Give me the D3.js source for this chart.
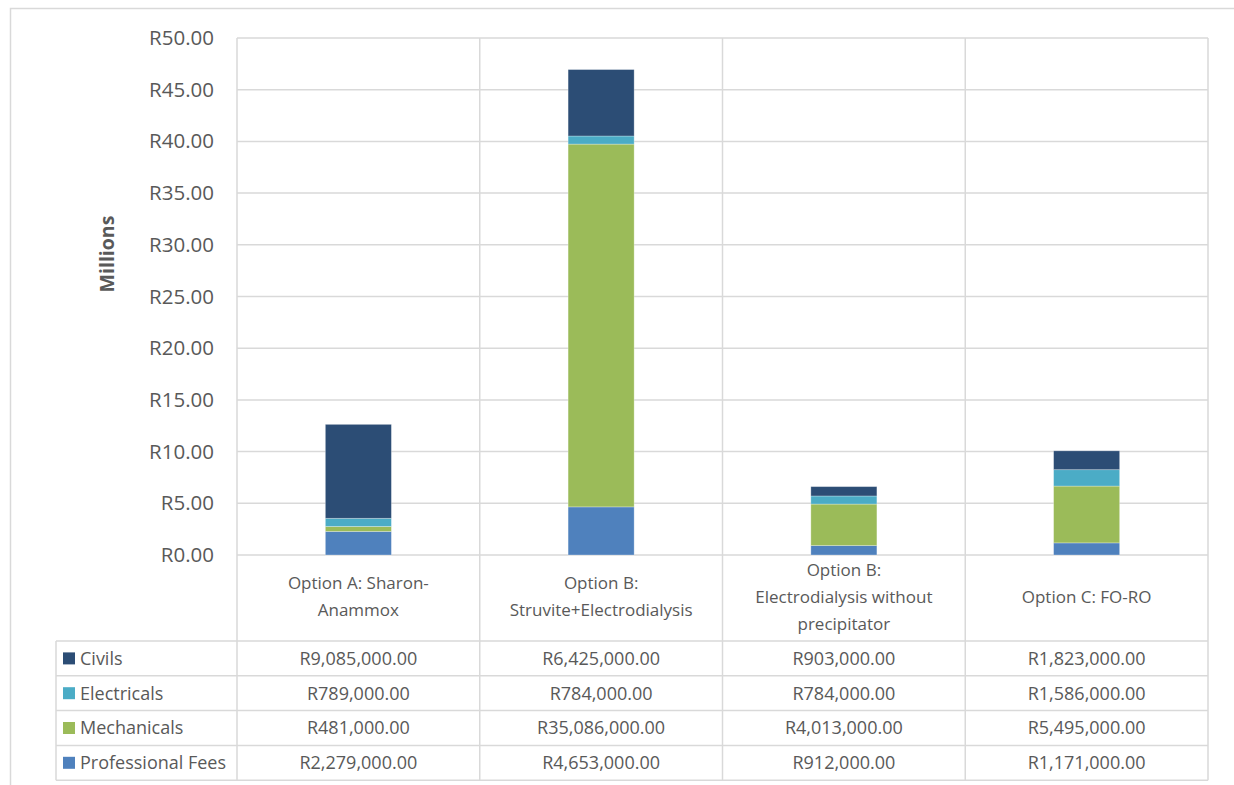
<!DOCTYPE html>
<html>
<head>
<meta charset="utf-8">
<script src="https://cdn.jsdelivr.net/npm/d3@7/dist/d3.min.js"></script>
<style>
  html, body { margin: 0; padding: 0; background: #fff; }
  svg { display: block; }
  text { font-family: "Open Sans", "Noto Sans", sans-serif; fill: #595959; }
</style>
</head>
<body>
<svg id="chart" width="1234" height="785"></svg>
<script>
// Capital cost breakdown per treatment option (Rand)
const categories = [
  "Option A: Sharon-Anammox",
  "Option B: Struvite+Electrodialysis",
  "Option B: Electrodialysis without precipitator",
  "Option C: FO-RO"
];
const categoryLines = [
  ["Option A: Sharon-", "Anammox"],
  ["Option B:", "Struvite+Electrodialysis"],
  ["Option B:", "Electrodialysis without", "precipitator"],
  ["Option C: FO-RO"]
];
const seriesNames = ["Civils", "Electricals", "Mechanicals", "Professional Fees"];
const civils       = [9085000, 6425000, 903000, 1823000];
const electricals  = [789000, 784000, 784000, 1586000];
const mechanicals  = [481000, 35086000, 4013000, 5495000];
const profFees     = [2279000, 4653000, 912000, 1171000];
const yTicks = [0, 5e6, 10e6, 15e6, 20e6, 25e6, 30e6, 35e6, 40e6, 45e6, 50e6];
const colors = {
  "Civils": "#2C4D75",
  "Electricals": "#4BACC6",
  "Mechanicals": "#9BBB59",
  "Professional Fees": "#4F81BD"
};

const seriesValues = {
  "Civils": civils,
  "Electricals": electricals,
  "Mechanicals": mechanicals,
  "Professional Fees": profFees
};

const rows = categories.map((c, i) => {
  const r = { category: c };
  seriesNames.forEach(s => { r[s] = seriesValues[s][i]; });
  return r;
});

const svg = d3.select("#chart");
const grid = "#D9D9D9";

// plot geometry
const plotL = 237, plotR = 1208, plotT = 38, plotB = 555;
const catBottom = 641, rowH = 34.8, tableLeft = 56;

// outer chart frame
svg.append("path")
  .attr("d", "M10.5,785 L10.5,8.5 L1234,8.5")
  .attr("fill", "none").attr("stroke", grid).attr("stroke-width", 1.5);

const x = d3.scaleBand().domain(categories).range([plotL, plotR]).padding(0);
const y = d3.scaleLinear().domain([0, 50e6]).range([plotB, plotT]);

// horizontal gridlines
svg.append("g").selectAll("line").data(yTicks).join("line")
  .attr("x1", plotL).attr("x2", plotR)
  .attr("y1", d => y(d)).attr("y2", d => y(d))
  .attr("stroke", grid).attr("stroke-width", 1.5);

// y axis tick labels
const yAxis = d3.axisLeft(y).tickValues(yTicks)
  .tickFormat(d => "R" + (d / 1e6).toFixed(2))
  .tickSize(0).tickPadding(23);
const ya = svg.append("g").attr("transform", `translate(${plotL},0)`).call(yAxis);
ya.select(".domain").remove();
ya.selectAll("text")
  .style("font-family", '"Open Sans", sans-serif')
  .style("font-size", "20.5px").attr("fill", "#595959");

// axis title
svg.append("text")
  .attr("transform", "translate(114,254) rotate(-90)")
  .attr("text-anchor", "middle")
  .style("font-size", "19.5px").style("font-weight", "bold")
  .text("Millions");

// stacked columns
const stack = d3.stack().keys(seriesNames.slice().reverse());
const stacked = stack(rows);
const barW = x.bandwidth() * 0.272;
svg.append("g").selectAll("g").data(stacked).join("g")
  .attr("fill", d => colors[d.key])
  .selectAll("rect").data(d => d).join("rect")
  .attr("x", d => x(d.data.category) + (x.bandwidth() - barW) / 2)
  .attr("width", barW)
  .attr("y", d => y(d[1]))
  .attr("height", d => y(d[0]) - y(d[1]))
  .attr("stroke", "rgba(255,255,255,0.35)").attr("stroke-width", 0.8);

// vertical grid / table column lines
const tableBottom = catBottom + rowH * 4;
const vlines = [plotL].concat(categories.map(c => x(c) + x.bandwidth()));
svg.append("g").selectAll("line").data(vlines).join("line")
  .attr("x1", d => d).attr("x2", d => d)
  .attr("y1", plotT).attr("y2", tableBottom)
  .attr("stroke", grid).attr("stroke-width", 1.5);

// category labels
const catG = svg.append("g");
categories.forEach((c, i) => {
  const lines = categoryLines[i];
  const cx = x(c) + x.bandwidth() / 2;
  const mid = (plotB + catBottom) / 2 - 1;
  const lh = 27;
  const t = catG.append("text").attr("text-anchor", "middle")
    .style("font-size", "17px");
  lines.forEach((ln, j) => {
    t.append("tspan").attr("x", cx)
      .attr("y", mid + (j - (lines.length - 1) / 2) * lh)
      .attr("dy", "0.35em").text(ln);
  });
});

// data table horizontal lines
const hl = d3.range(5).map(i => catBottom + i * rowH);
svg.append("g").selectAll("line").data(hl).join("line")
  .attr("x1", tableLeft).attr("x2", plotR)
  .attr("y1", d => d).attr("y2", d => d)
  .attr("stroke", grid).attr("stroke-width", 1.5);
svg.append("line")
  .attr("x1", tableLeft).attr("x2", tableLeft)
  .attr("y1", catBottom).attr("y2", tableBottom)
  .attr("stroke", grid).attr("stroke-width", 1.5);

// table rows: legend key + values
const fmt = v => "R" + d3.format(",.2f")(v);
seriesNames.forEach((s, r) => {
  const cy = catBottom + r * rowH + rowH / 2;
  svg.append("rect").attr("x", 63).attr("y", cy - 6)
    .attr("width", 12).attr("height", 12).attr("fill", colors[s]);
  svg.append("text").attr("x", 80).attr("y", cy).attr("dy", "0.35em")
    .style("font-size", "18px").text(s);
  categories.forEach((c, i) => {
    svg.append("text").attr("x", x(c) + x.bandwidth() / 2).attr("y", cy)
      .attr("dy", "0.35em").attr("text-anchor", "middle")
      .style("font-size", "18px").text(fmt(seriesValues[s][i]));
  });
});
</script>
</body>
</html>
